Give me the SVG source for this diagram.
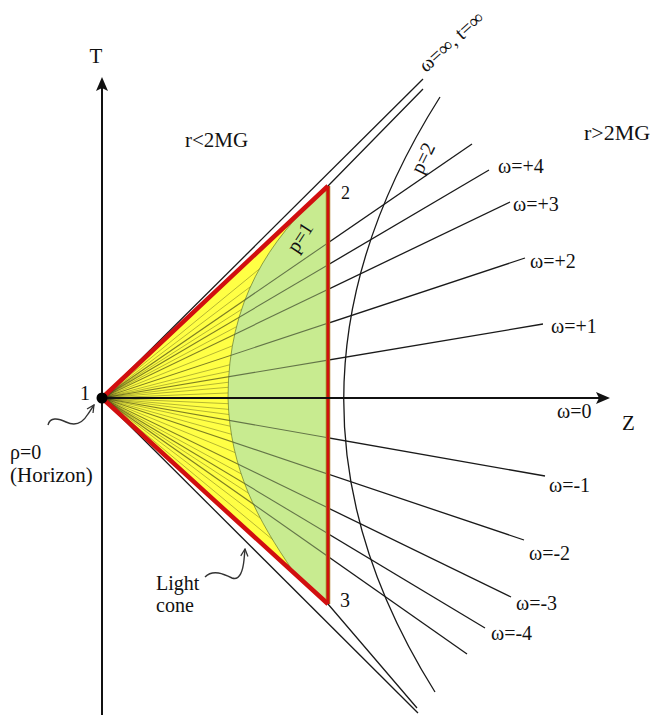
<svg xmlns="http://www.w3.org/2000/svg" width="658" height="715" viewBox="0 0 658 715" font-family="'Liberation Serif', 'Times New Roman', serif">
<style>
text{font-family:"Liberation Serif","Times New Roman",serif;fill:#111;}
.lbl{font-size:20px;}
.big{font-size:21px;}
.ln{fill:none;stroke:#1a1a1a;stroke-width:1.3;}
.inner{fill:none;stroke:#000;stroke-opacity:0.5;stroke-width:1.1;}
.extra{fill:none;stroke:#000;stroke-opacity:0.32;stroke-width:0.9;}
.red{fill:none;stroke:#d10f0f;stroke-linejoin:round;}
.axis{fill:none;stroke:#111;stroke-width:2;}
.wave{fill:none;stroke:#333;stroke-width:1.4;}
</style>
<defs>
<marker id="solid" viewBox="0 0 14 12" refX="4" refY="6" markerWidth="14" markerHeight="12" markerUnits="userSpaceOnUse" orient="auto">
<path d="M0,0 L14,6 L0,12 L3,6 Z" fill="#111"/>
</marker>
<marker id="open" viewBox="0 0 10 10" refX="9" refY="5" markerWidth="9" markerHeight="9" markerUnits="userSpaceOnUse" orient="auto">
<path d="M1,1 L9,5 L1,9" fill="none" stroke="#333" stroke-width="1.4"/>
</marker>
<clipPath id="triClip"><path d="M102,398 L328,186 L328,604 Z"/></clipPath>
<clipPath id="yelClip"><path d="M102,398 L322,192 C270,240 228,300 228,398 C230,470 258,520 293,571 Z"/></clipPath>
<path id="wU5" d="M102,398 L472,144"/>
<path id="wP4" d="M102,398 L489,170"/>
<path id="wP3" d="M102,398 L510,202"/>
<path id="wP2" d="M102,398 L525,258"/>
<path id="wP1" d="M102,398 L543,324"/>
<path id="wM1" d="M102,398 L545,476"/>
<path id="wM2" d="M102,398 L524,540"/>
<path id="wM3" d="M102,398 L511,597"/>
<path id="wM4" d="M102,398 L485,628"/>
<path id="wL5" d="M102,398 L467,654"/>
</defs>
<rect width="658" height="715" fill="#fff"/>

<g id="connectors">
<use href="#wU5" class="ln"/>
<use href="#wP4" class="ln"/>
<use href="#wP3" class="ln"/>
<use href="#wP2" class="ln"/>
<use href="#wP1" class="ln"/>
<use href="#wM1" class="ln"/>
<use href="#wM2" class="ln"/>
<use href="#wM3" class="ln"/>
<use href="#wM4" class="ln"/>
<use href="#wL5" class="ln"/>
<path class="ln" d="M102,398 L423,79"/>
<path class="ln" d="M102,398 L328,186 L423,89"/>
<path class="ln" d="M102,398 L418,713"/>
<path class="ln" d="M102,398 L328,604 L417,708"/>
<path id="p2curve" class="ln" d="M440,97 Q250,397 435,692"/>
</g>

<g id="region">
<path d="M102,398 L328,186 L328,604 Z" fill="#ffff45"/>
<path d="M322,192 L328,186 L328,604 L293,571 C258,520 230,470 228,398 C228,300 270,240 322,192 Z" fill="#c8eb90"/>
<g clip-path="url(#triClip)">
<use href="#wU5" class="inner"/>
<use href="#wP4" class="inner"/>
<use href="#wP3" class="inner"/>
<use href="#wP2" class="inner"/>
<use href="#wP1" class="inner"/>
<path class="inner" d="M102,398 L328,398"/>
<use href="#wM1" class="inner"/>
<use href="#wM2" class="inner"/>
<use href="#wM3" class="inner"/>
<use href="#wM4" class="inner"/>
<use href="#wL5" class="inner"/>
</g>
<g clip-path="url(#yelClip)" class="extra">
<path d="M102,398 L328,389"/>
<path d="M102,398 L328,378.8"/>
<path d="M102,398 L328,369.8"/>
<path d="M102,398 L328,350.5"/>
<path d="M102,398 L328,339.2"/>
<path d="M102,398 L328,307.6"/>
<path d="M102,398 L328,278.2"/>
<path d="M102,398 L328,254.5"/>
<path d="M102,398 L328,228.5"/>
<path d="M102,398 L328,212.7"/>
<path d="M102,398 L328,408.2"/>
<path d="M102,398 L328,418.3"/>
<path d="M102,398 L328,427.4"/>
<path d="M102,398 L328,447.7"/>
<path d="M102,398 L328,461.3"/>
<path d="M102,398 L328,490.7"/>
<path d="M102,398 L328,521.2"/>
<path d="M102,398 L328,544.9"/>
<path d="M102,398 L328,569.8"/>
<path d="M102,398 L328,585.6"/>
</g>
<path id="p1curve" d="M322,192 C270,240 228,300 228,398 C230,470 258,520 293,571" fill="none" stroke="#5e6e22" stroke-opacity="0.7" stroke-width="0.9"/>
<path d="M328,186 L328,604" fill="none" stroke="#a8781e" stroke-width="4.5"/>
<path class="red" d="M328,186 L328,604" stroke-width="2.6"/>
<path class="red" d="M328,186 L102,398 L328,604" stroke-width="4.5"/>
</g>

<g id="axes">
<path class="axis" d="M102,715 L102,87" marker-end="url(#solid)"/>
<path class="axis" d="M102,398 L600,398" marker-end="url(#solid)"/>
</g>

<g id="node1">
<circle cx="102" cy="398" r="5.5" fill="#000"/>
<text class="lbl" x="80" y="400">1</text>
</g>
<g id="node2"><text class="lbl" x="341" y="199" style="font-size:18px">2</text></g>
<g id="node3"><text class="lbl" x="340" y="607">3</text></g>

<g id="labels">
<text class="big" x="96" y="63" text-anchor="middle">T</text>
<text class="big" x="622" y="430">Z</text>
<text class="big" x="185" y="147">r&lt;2MG</text>
<text class="big" x="584" y="140" style="font-size:22px">r&gt;2MG</text>
<text class="lbl" transform="translate(426,73) rotate(-42)">ω=∞, t=∞</text>
<text class="lbl" transform="translate(422,175) rotate(-64)">p=2</text>
<text class="lbl" transform="translate(297,254) rotate(-57)">p=1</text>
<text class="lbl" x="498" y="173">ω=+4</text>
<text class="lbl" x="513" y="211">ω=+3</text>
<text class="lbl" x="530" y="268">ω=+2</text>
<text class="lbl" x="551" y="333">ω=+1</text>
<text class="lbl" x="557" y="418">ω=0</text>
<text class="lbl" x="549" y="492">ω=-1</text>
<text class="lbl" x="529" y="560">ω=-2</text>
<text class="lbl" x="516" y="610">ω=-3</text>
<text class="lbl" x="491" y="640">ω=-4</text>
</g>

<g id="horizon">
<text class="lbl" x="10" y="459">ρ=0</text>
<text class="big" x="10" y="482">(Horizon)</text>
<path class="wave" d="M48,425 C50,417 58,418 66,422 C74,426 82,424 88,414 L94,405" marker-end="url(#open)"/>
</g>

<g id="lightcone">
<text class="lbl" x="156" y="590">Light</text>
<text class="lbl" x="156" y="612">cone</text>
<path class="wave" d="M205,577 C213,569 224,574 232,578 C240,581 243,570 244,560 L245,549" marker-end="url(#open)"/>
</g>
</svg>
